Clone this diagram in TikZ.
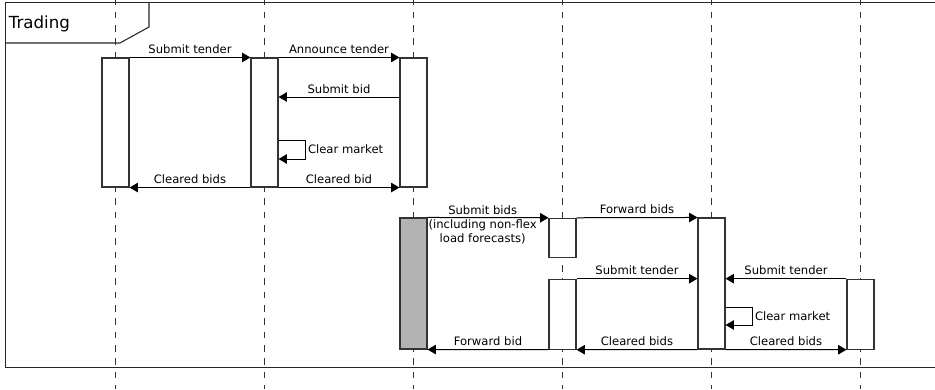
\documentclass[tikz,border=0pt]{standalone}
\usepackage{fontspec}
\setmainfont{DejaVu Sans}
\usetikzlibrary{arrows.meta}
\definecolor{lifecolor}{HTML}{333333}
\definecolor{boxstroke}{HTML}{333333}
\definecolor{framecolor}{HTML}{262626}
\definecolor{busyfill}{HTML}{B3B3B3}
\newcommand{\pxu}{0.75pt}
\newcommand{\msgfont}{\fontsize{8.7pt}{10.5pt}\selectfont}
\tikzset{
  lifeline/.style={draw=lifecolor, line width=1.1pt,
                   dash pattern=on 5pt off 5pt, dash phase=1.2pt},
  actbox/.style={draw=boxstroke, fill=white, line width=0.8pt,
                 minimum width=27*\pxu, inner sep=0pt},
  msg/.style={-{Triangle[length=6.2pt,width=7pt]}, line width=0.75pt},
  msglabel/.style={font=\msgfont, anchor=base, yshift=3pt, inner sep=0pt},
}

\begin{document}
\begin{tikzpicture}[x=0.75pt, y=-0.75pt]

%%=== COORDINATE PLAN (px of the 935 x 389 image, y downwards) =======
%%  Lifelines x: 115.5 264.5 413.5 562.5 711.5 860.5  (step 149)
%%  Frame: x 5.5 .. (off page), y 2.5 .. 367.5
%%  Part 1 rows: top 58, bid 97, clear 140/159, bottom 187
%%  Part 2 rows: top 218, tender 279, clear 307/325, bottom 349
%%====================================================================
\useasboundingbox (0,0) rectangle (935,389);

%% --- Lifelines -----------------------------------------------------
\foreach \lx in {115.5,264.5,413.5,562.5,711.5,860.5}
  \draw[lifeline] (\lx,0) -- (\lx,389);

%% --- Frame and tab -------------------------------------------------
\draw[draw=framecolor, line width=0.8pt]
  (945,2.5) -- (5.5,2.5) -- (5.5,367.5) -- (945,367.5);
\draw[draw=framecolor, line width=0.8pt]
  (5.5,43) -- (120,43) -- (149,27) -- (149,2.5);
\node[font=\fontsize{12.5pt}{14pt}\selectfont, anchor=base west, inner sep=0pt]
  (tab) at (8.5,28) {Trading};

%% --- Activation boxes ----------------------------------------------
%% part 1
\node[actbox, minimum height=129*\pxu] (dsoA)  at (115.5,122.5) {};
\node[actbox, minimum height=129*\pxu] (mktA)  at (264.5,122.5) {};
\node[actbox, minimum height=129*\pxu] (aggA)  at (413.5,122.5) {};
%% part 2
\node[actbox, fill=busyfill, minimum height=131*\pxu] (aggB) at (413.5,283.5) {};
\node[actbox, minimum height=39*\pxu]  (brkA)  at (562.5,237.8) {};
\node[actbox, minimum height=70*\pxu]  (brkB)  at (562.5,314.2) {};
\node[actbox, minimum height=131*\pxu] (whlB)  at (711.5,283.5) {};
\node[actbox, minimum height=70*\pxu]  (tsoB)  at (860.5,314.2) {};

%% --- Row helpers ---------------------------------------------------
\coordinate (rBid)  at (0,97);
\coordinate (rClrA) at (0,140);
\coordinate (rClrB) at (0,159);
\coordinate (rClrC) at (0,307);
\coordinate (rClrD) at (0,325);

%% --- Messages, part 1 ----------------------------------------------
\draw[msg] (dsoA.north east) -- (mktA.north west)
  node[midway, msglabel] {Submit tender};
\draw[msg] (mktA.north east) -- (aggA.north west)
  node[midway, msglabel] {Announce tender};
\draw[msg] (aggA.west |- rBid) -- (mktA.east |- rBid)
  node[midway, msglabel] {Submit bid};
\draw[msg] (mktA.east |- rClrA) -- ++(27,0) -- ++(0,19)
  node[midway, right, font=\msgfont, inner sep=1.5pt] {Clear market}
  -- (mktA.east |- rClrB);
\draw[msg] (mktA.south west) -- (dsoA.south east)
  node[midway, msglabel] {Cleared bids};
\draw[msg] (mktA.south east) -- (aggA.south west)
  node[midway, msglabel] {Cleared bid};

%% --- Messages, part 2 ----------------------------------------------
\draw[msg] (aggB.north east) -- (brkA.north west)
  node[midway, font=\msgfont, inner sep=0pt, align=center,
       anchor=north, yshift=9.6pt, xshift=-4pt]
  {Submit bids\\(including non-flex\\load forecasts)};
\draw[msg] (brkA.north east) -- (whlB.north west)
  node[midway, msglabel] {Forward bids};
\draw[msg] (brkB.north east) -- (whlB.west |- brkB.north)
  node[midway, msglabel] {Submit tender};
\draw[msg] (tsoB.north west) -- (whlB.east |- tsoB.north)
  node[midway, msglabel] {Submit tender};
\draw[msg] (whlB.east |- rClrC) -- ++(27,0) -- ++(0,18)
  node[midway, right, font=\msgfont, inner sep=1.5pt] {Clear market}
  -- (whlB.east |- rClrD);
\draw[msg] (brkB.south west) -- (aggB.south east)
  node[midway, msglabel] {Forward bid};
\draw[msg] (whlB.south west) -- (brkB.south east)
  node[midway, msglabel] {Cleared bids};
\draw[msg] (whlB.south east) -- (tsoB.south west)
  node[midway, msglabel] {Cleared bids};

\end{tikzpicture}
\end{document}
